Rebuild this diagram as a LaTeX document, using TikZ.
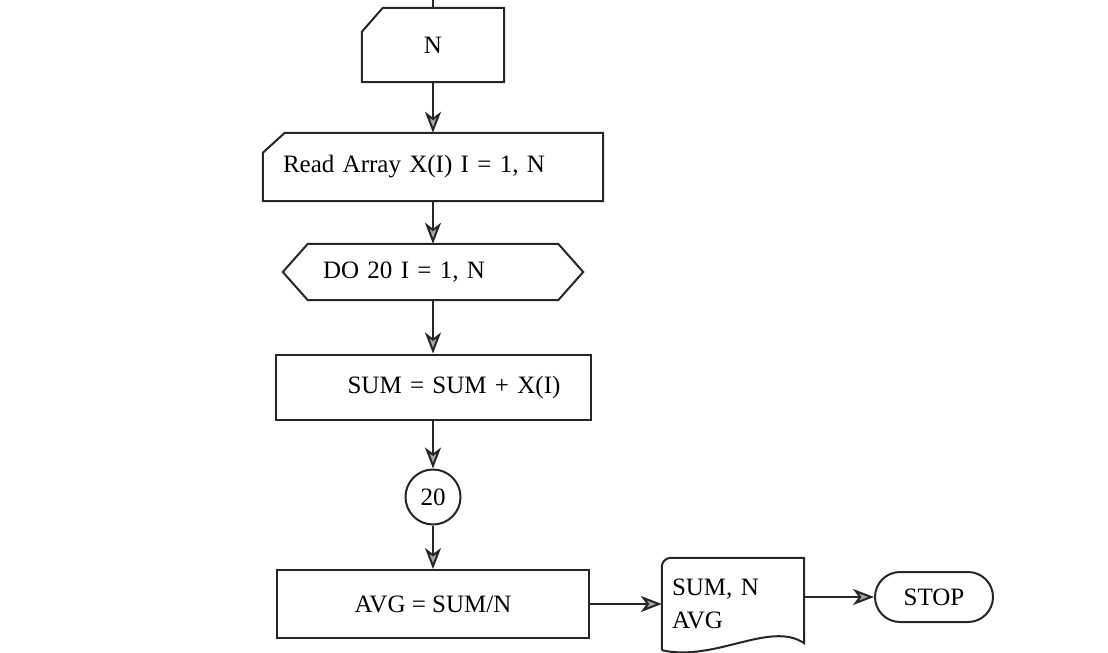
\documentclass[tikz,border=0pt]{standalone}
\usepackage{fontspec}
\setmainfont{Liberation Serif}
\usetikzlibrary{arrows.meta, positioning}

\begin{document}
\begin{tikzpicture}[x=1pt, y=-1pt, font=\fontsize{25}{30}\selectfont,
  line/.style={draw=black!85, line width=2pt},
  flow/.style={line, -{Stealth[length=21pt, width=16pt, inset=6pt, fill=gray!70]}},
  box/.style={inner sep=0pt, align=center}]
\useasboundingbox (0,0) rectangle (1108,653);
\def\cx{433}
\coordinate (top) at (\cx,0);
\node[box, minimum width=142pt, minimum height=74pt] (n) at (\cx,45) {N};
\node[box, minimum height=68pt, text width=300pt, inner xsep=20pt, align=left] (read) at (\cx,167) {Read Array X(I) I = 1, N};
\node[box, minimum height=56pt, text width=220pt, inner xsep=40pt, align=left] (hex) at (\cx,272) {DO 20 I = 1, N};
\node[box, line, minimum height=65pt, text width=255pt, inner xsep=30pt, align=right] (sum) at (\cx,387) {SUM = SUM + X(I)};
\node[line, circle, minimum size=55pt, inner sep=0pt] (c20) at (\cx,497) {20};
\node[box, line, minimum width=312pt, minimum height=68pt] (avg) at (\cx,604) {AVG = SUM/N};
\node[box, minimum width=142pt, minimum height=92pt, text width=122pt, inner xsep=10pt, align=left] (out) at (733,604) {SUM, N\\[3pt]AVG};
\node[line, rounded corners=25pt, minimum width=118pt, minimum height=50pt] (stop) at (934,597) {STOP};
\draw[line] ([yshift=-24pt]n.north west) -- ([xshift=21pt]n.north west) -- (n.north east) -- (n.south east) -- (n.south west) -- cycle;
\draw[line] ([yshift=-20pt]read.north west) -- ([xshift=22pt]read.north west) -- (read.north east) -- (read.south east) -- (read.south west) -- cycle;
\draw[line] (hex.west) -- ([xshift=25pt]hex.north west) -- ([xshift=-25pt]hex.north east) -- (hex.east) -- ([xshift=-25pt]hex.south east) -- ([xshift=25pt]hex.south west) -- cycle;
\draw[line] (out.south west) {[rounded corners=9pt] -- (out.north west) -- ([xshift=30pt]out.north west)} -- (out.north east) -- ([yshift=7pt]out.south east)
  .. controls ([xshift=-34pt,yshift=30pt]out.south east) and ([xshift=-89pt,yshift=-12pt]out.south east) .. (out.south west);
\draw[line] (top) -- (n);
\foreach \a/\b in {n/read, read/hex, hex/sum, sum/c20, c20/avg}
  \draw[flow] (\a) -- (\b);
\draw[flow] (avg) -- (out);
\draw[flow] (out.east |- stop.west) -- (stop.west);
\end{tikzpicture}
\end{document}
